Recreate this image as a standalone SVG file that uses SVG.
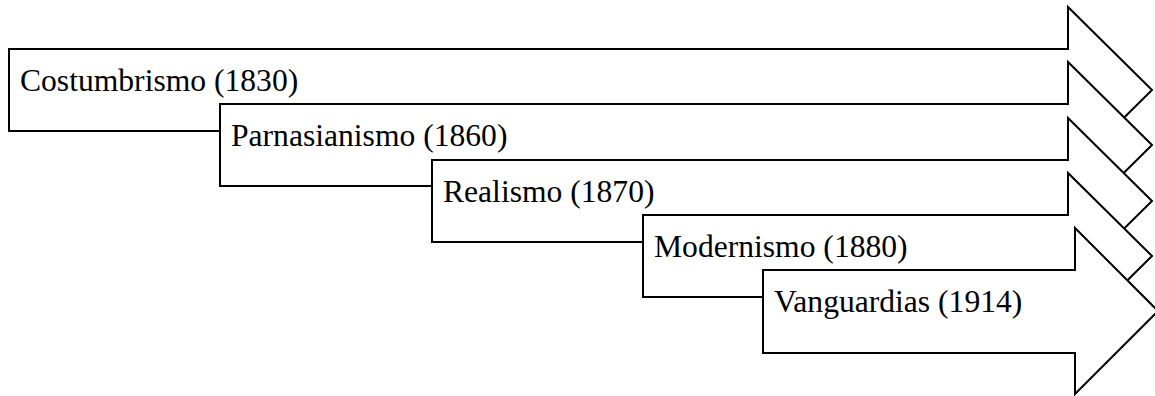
<svg xmlns="http://www.w3.org/2000/svg" width="1155" height="396" viewBox="0 0 1155 396">
  <style>
    .arrow { fill: #ffffff; stroke: #000000; stroke-width: 2; stroke-linejoin: miter; }
    .label { font-family: "Liberation Serif", "Times New Roman", serif; font-size: 31.6px; fill: #000000; }
  </style>
  <rect width="1155" height="396" fill="#ffffff"/>
  <!-- staggered timeline arrows, each drawn over the previous one -->
  <g id="costumbrismo">
    <path class="arrow" d="M9,49 H1068 V7 L1152,90 L1068,173 V131 H9 Z"/>
    <text class="label" x="20" y="91">Costumbrismo (1830)</text>
  </g>
  <g id="parnasianismo">
    <path class="arrow" d="M220,104 H1068 V62 L1152,145 L1068,228 V186 H220 Z"/>
    <text class="label" x="231" y="146">Parnasianismo (1860)</text>
  </g>
  <g id="realismo">
    <path class="arrow" d="M432,160 H1068 V118 L1152,201 L1068,284 V242 H432 Z"/>
    <text class="label" x="443" y="202">Realismo (1870)</text>
  </g>
  <g id="modernismo">
    <path class="arrow" d="M643,215 H1068 V173 L1152,256 L1068,339 V297 H643 Z"/>
    <text class="label" x="654" y="257">Modernismo (1880)</text>
  </g>
  <g id="vanguardias">
    <path class="arrow" d="M763,270 H1075 V228 L1158,311 L1075,394 V353 H763 Z"/>
    <text class="label" x="774" y="312">Vanguardias (1914)</text>
  </g>
  <g id="connectors"/>
</svg>
